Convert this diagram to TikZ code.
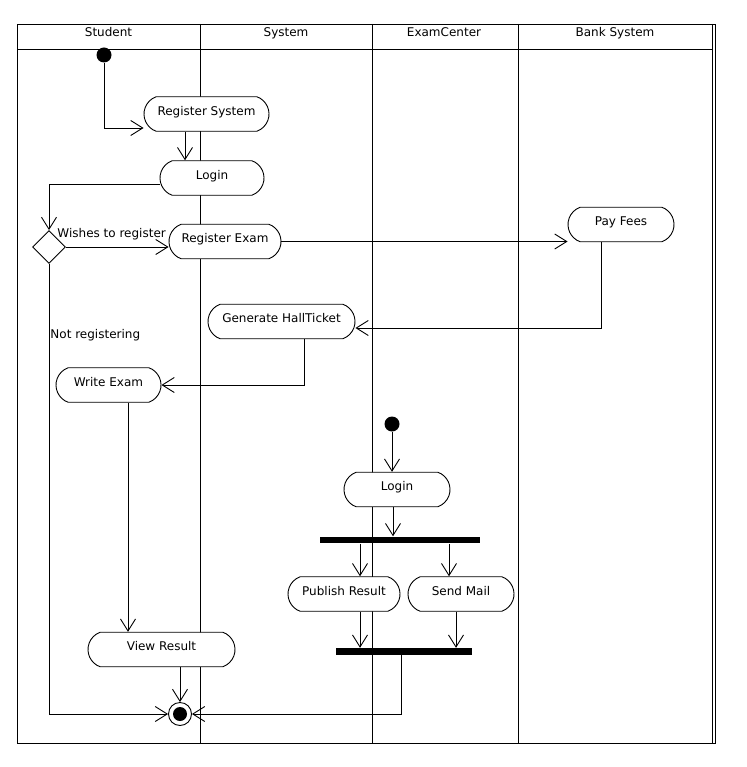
\documentclass[tikz,border=0pt]{standalone}
\usepackage{fontspec}
\setmainfont{DejaVu Sans}
\usetikzlibrary{arrows.meta,calc,shapes.geometric,shapes.misc}
\begin{document}
\begin{tikzpicture}[x=1pt,y=-1pt,line width=0.9pt,
  every node/.style={font=\fontsize{12}{14}\selectfont},
  act/.style={rounded rectangle, rounded rectangle arc length=140, draw, fill=white, inner sep=0pt,
    minimum width=#1, minimum height=34.5pt, text height=9pt, text depth=6.4pt},
  bar/.style={fill=black, inner sep=0pt, minimum width=#1, minimum height=6.5pt},
  start/.style={circle, fill=black, inner sep=0pt, minimum size=15pt},
  stop/.style={circle, draw, fill=white, inner sep=0pt, minimum size=23pt,
    path picture={\fill[black] (path picture bounding box.center) circle (7pt);}},
  decision/.style={diamond, draw, fill=white, inner sep=0pt, minimum width=33pt, minimum height=33pt},
  lanehead/.style={anchor=base, inner sep=0pt},
  guard/.style={anchor=base west, inner sep=0pt},
  flow/.style={-{Straight Barb[length=12pt,width=15pt]}}]

\useasboundingbox (0,0) rectangle (746,767);

% swimlane frame
\draw (17,24) rectangle (715,743);
\draw (712,24) -- (712,743);
\draw (17,49) -- (712,49);
\draw (200,24) -- (200,743);
\draw (372,24) -- (372,743);
\draw (518,24) -- (518,743);

\node[lanehead] (hstudent) at (108.5,36.5) {Student};
\node[lanehead] (hsystem) at (286,36.5) {System};
\node[lanehead] (hexam) at (444,36.5) {ExamCenter};
\node[lanehead] (hbank) at (615,36.5) {Bank System};

% activities
\node[act=125pt] (rsys) at (206.5,114) {Register System};
\node[act=104pt] (login1) at (212,178) {Login};
\node[act=112pt] (rexam) at (225,241.5) {Register Exam};
\node[act=106pt] (payfees) at (621,224.5) {Pay Fees};
\node[act=147pt] (genht) at (281.5,321.5) {Generate HallTicket};
\node[act=105pt] (wexam) at (108.5,385) {Write Exam};
\node[act=147pt] (vres) at (161.5,649.5) {View Result};
\node[act=106pt] (login2) at (397,489.5) {Login};
\node[act=112pt] (pub) at (344,594) {Publish Result};
\node[act=106pt] (mail) at (461,594) {Send Mail};

% control nodes
\node[bar=160pt] (fork) at (400,540) {};
\node[bar=136pt] (join) at (404,651.5) {};
\node[start] (init1) at (104,55) {};
\node[start] (init2) at (392,424) {};
\node[stop] (final) at (180,714) {};
\node[decision] (dec) at (49,247) {};

% guards
\node[guard] (gwish) at (57,237) {Wishes to register};
\node[guard] (gnot) at (50,338.5) {Not registering};

% flows
\draw[flow] (init1) |- ($(rsys.west)+(0,14)$);
\coordinate (a1) at ($(rsys.south)+(-21.5,0)$);
\draw[flow] (a1) -- (a1 |- login1.north);
\draw[flow] ($(login1.west)+(0,6)$) -| (dec.north);
\draw[flow] (dec.east) -- (dec.east -| rexam.west);
\draw[flow] (rexam.east) -- (rexam.east -| payfees.west);
\draw[flow] ($(payfees.south)+(-20,0)$) |- ($(genht.east)+(0,6.5)$);
\draw[flow] ($(genht.south)+(22.5,0)$) |- (wexam.east);
\coordinate (a2) at ($(wexam.south)+(19.5,0)$);
\draw[flow] (a2) -- (a2 |- vres.north);
\draw[flow] (final.north |- vres.south) -- (final.north);
\draw[flow] (dec.south) |- (final.west);
\draw[flow] ($(join.south)+(-3,0)$) |- (final.east);

\draw[flow] (init2) -- (init2 |- login2.north);
\coordinate (a3) at ($(login2.south)+(-4,0)$);
\draw[flow] (a3) -- (a3 |- fork.north);
\coordinate (a4) at ($(pub.north)+(16,0)$);
\draw[flow] (a4 |- fork.south) -- (a4);
\coordinate (a5) at ($(mail.north)+(-12,0)$);
\draw[flow] (a5 |- fork.south) -- (a5);
\coordinate (a6) at ($(pub.south)+(16,0)$);
\draw[flow] (a6) -- (a6 |- join.north);
\coordinate (a7) at ($(mail.south)+(-5,0)$);
\draw[flow] (a7) -- (a7 |- join.north);

\end{tikzpicture}
\end{document}
